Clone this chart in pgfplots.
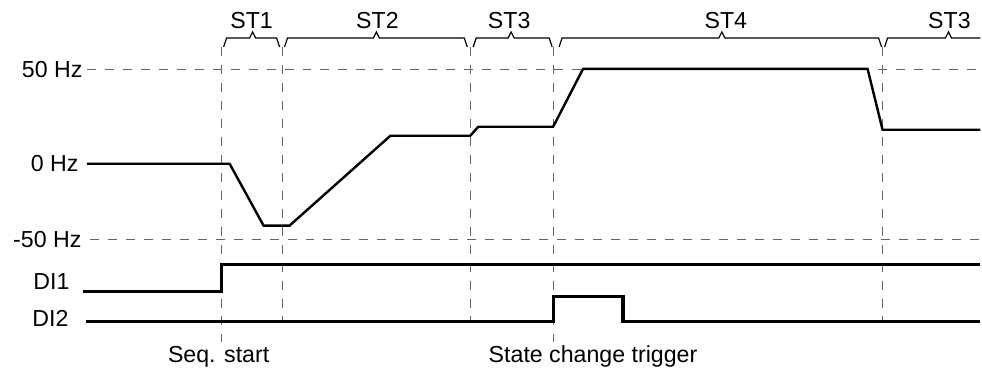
\documentclass[border=0pt]{standalone}
\usepackage{pgfplots}
\pgfplotsset{compat=1.18}
\usepackage{fontspec}
\setmainfont{Liberation Sans}

% brace over a state: left end, tip, right end (pixel x)
\newcommand\stbrace[3]{%
  \draw[black, line width=0.6pt] (axis cs:#1,47) -- (axis cs:#1+3,38) -- (axis cs:#2-3,38)
    -- (axis cs:#2,32) -- (axis cs:#2+3,38) -- (axis cs:#3-3,38) -- (axis cs:#3,47);}

\begin{document}
\begin{tikzpicture}
\begin{axis}[
  scale only axis, width=491pt, height=185pt,
  xmin=0, xmax=982, ymin=0, ymax=370, y dir=reverse,
  axis line style={draw=none}, ticks=none, clip=false,
  font=\fontsize{11.6}{13}\selectfont
]
\path (axis cs:0,0) rectangle (axis cs:982,370);

% guides
\begin{scope}[black!60, line width=0.55pt, dash pattern=on 4.5pt off 4.5pt]
\draw (axis cs:87,70) -- (axis cs:982,70);
\draw (axis cs:90,240) -- (axis cs:982,240);
\draw (axis cs:222,47) -- (axis cs:222,343);
\draw (axis cs:283,47) -- (axis cs:283,322);
\draw (axis cs:471,47) -- (axis cs:471,322);
\draw (axis cs:554,47) -- (axis cs:554,343);
\draw (axis cs:884,47) -- (axis cs:884,322);
\end{scope}

% output frequency
\addplot[black, line width=1.2pt] coordinates {
(87,164) (230,164) (264,226) (290,226) (391,136) (471,136) (479,127)
(554,127) (584,69) (869,69) (884,130) (982,130)
};
% DI1
\addplot[black, line width=1.6pt] coordinates {
(83,292) (222,292) (222,265) (982,265)
};
% DI2
\addplot[black, line width=1.6pt] coordinates {
(86,322) (554,322) (554,297) (624,297) (624,322) (982,322)
};

\stbrace{224}{253}{280}
\stbrace{285}{377}{468}
\stbrace{474}{512}{553}
\stbrace{560}{723}{883}
\begin{scope}
\clip (axis cs:880,0) rectangle (axis cs:982,60);
\stbrace{886}{950}{995}
\end{scope}

\node at (axis cs:252,21) {ST1};
\node at (axis cs:378,21) {ST2};
\node at (axis cs:510,21) {ST3};
\node at (axis cs:727,21) {ST4};
\node at (axis cs:951,21) {ST3};

\node[anchor=east, inner sep=0pt] at (axis cs:83,70) {50 Hz};
\node[anchor=east, inner sep=0pt] at (axis cs:79,164) {0 Hz};
\node[anchor=east, inner sep=0pt] at (axis cs:82,240) {-50 Hz};
\node[anchor=east, inner sep=0pt] at (axis cs:70,282) {DI1};
\node[anchor=east, inner sep=0pt] at (axis cs:69,319) {DI2};

\node at (axis cs:219,357) {Seq. start};
\node at (axis cs:594,357) {State change trigger};
\end{axis}
\end{tikzpicture}
\end{document}
